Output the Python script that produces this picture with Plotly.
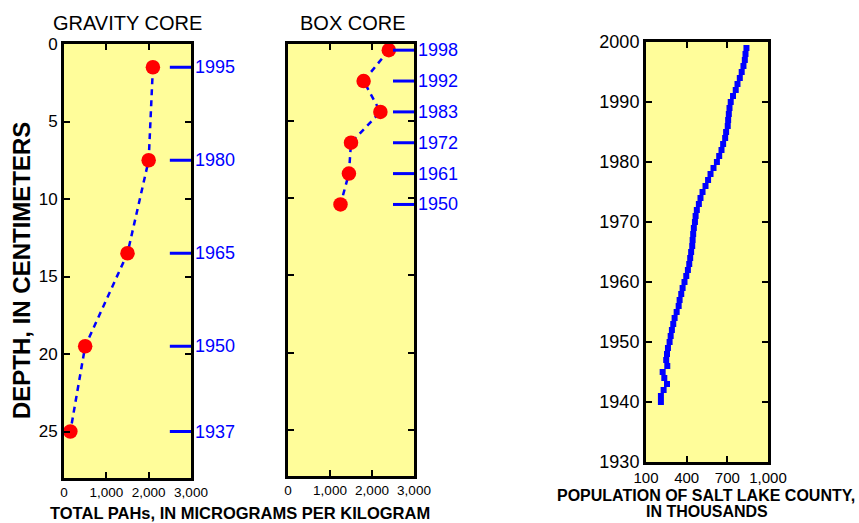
import plotly.graph_objects as go

# Gravity core: total PAHs (ug/kg) by depth (cm), with dated horizons
gravity_pah = [2100, 2000, 1500, 500, 150]
gravity_depth = [1.5, 7.5, 13.5, 19.5, 25]
gravity_years = ["1995", "1980", "1965", "1950", "1937"]

# Box core
box_pah = [2400, 1800, 2200, 1500, 1450, 1250]
box_depth = [0.4, 2.4, 4.4, 6.4, 8.4, 10.4]
box_years = ["1998", "1992", "1983", "1972", "1961", "1950"]

# Salt Lake County population, thousands
pop_years = [1940, 1941, 1942, 1943, 1944, 1945, 1946, 1947, 1948, 1949,
             1950, 1951, 1952, 1953, 1954, 1955, 1956, 1957, 1958, 1959,
             1960, 1961, 1962, 1963, 1964, 1965, 1966, 1967, 1968, 1969,
             1970, 1971, 1972, 1973, 1974, 1975, 1976, 1977, 1978, 1979,
             1980, 1981, 1982, 1983, 1984, 1985, 1986, 1987, 1988, 1989,
             1990, 1991, 1992, 1993, 1994, 1995, 1996, 1997, 1998, 1999]
pop_thousands = [210, 210, 230, 255, 235, 223, 257, 249, 255, 262,
                 274, 282, 291, 301, 311, 326, 341, 348, 360, 370,
                 384, 397, 409, 419, 426, 433, 441, 444, 448, 453,
                 461, 466, 475, 490, 502, 517, 539, 558, 576, 598,
                 623, 640, 657, 669, 684, 691, 703, 706, 711, 716,
                 725, 742, 762, 775, 792, 806, 819, 829, 834, 841]

pah_ticks = [0, 1000, 2000, 3000]
depth_ticks = [0, 5, 10, 15, 20, 25]
pop_ticks = [100, 400, 700, 1000]
year_ticks = [1930, 1940, 1950, 1960, 1970, 1980, 1990, 2000]

W, H = 859, 523
BG = "#fffd9a"
BLUE = "#0000ff"
RED = "#ff0000"
FONT = "Liberation Sans, Arial, sans-serif"


def px(x):
    return x / W


def py(y):
    return 1 - y / H


fig = go.Figure()

core_line = dict(color=BLUE, width=2.5, dash="6px,5px")
core_marker = dict(color=RED, size=14.5, line=dict(width=0))

fig.add_trace(go.Scatter(x=gravity_pah, y=gravity_depth, mode="lines+markers",
                         line=core_line, marker=core_marker,
                         xaxis="x", yaxis="y", showlegend=False))
fig.add_trace(go.Scatter(x=box_pah, y=box_depth, mode="lines+markers",
                         line=core_line, marker=core_marker,
                         xaxis="x2", yaxis="y2", showlegend=False))
fig.add_trace(go.Scatter(x=pop_thousands, y=pop_years, mode="markers",
                         marker=dict(color=BLUE, size=6, symbol="square",
                                     line=dict(width=0)),
                         xaxis="x3", yaxis="y3", showlegend=False))

frame = dict(showline=True, linewidth=3, linecolor="black", mirror="ticks",
             ticks="inside", ticklen=6, tickwidth=2, tickcolor="black",
             showgrid=False, zeroline=False, automargin=False)

fig.update_layout(
    width=W, height=H,
    margin=dict(l=0, r=0, t=0, b=0, pad=0, autoexpand=False),
    paper_bgcolor="white", plot_bgcolor=BG,
    font=dict(family=FONT, color="black"),
    xaxis=dict(domain=[px(64), px(191)], anchor="y", range=[0, 3000],
               tickvals=pah_ticks, tickformat=",",
               tickfont=dict(size=13.5), **frame),
    yaxis=dict(domain=[py(478), py(44)], anchor="x", range=[28, 0],
               tickvals=depth_ticks, tickfont=dict(size=17), **frame),
    xaxis2=dict(domain=[px(288), px(414)], anchor="y2", range=[0, 3000],
                tickvals=pah_ticks, tickformat=",",
                tickfont=dict(size=13.5), **frame),
    yaxis2=dict(domain=[py(476), py(44)], anchor="x2", range=[28, 0],
                tickvals=depth_ticks, showticklabels=False, **frame),
    xaxis3=dict(domain=[px(646), px(768)], anchor="y3", range=[100, 1000],
                tickvals=pop_ticks, tickformat=",",
                tickfont=dict(size=15), **frame),
    yaxis3=dict(domain=[py(462), py(42)], anchor="x3", range=[1930, 2000],
                tickvals=year_ticks, tickfont=dict(size=18), **frame),
)

# Dated horizons: short blue ticks at the right edge with year labels
for xa, ya, depths, years in (("x", "y", gravity_depth, gravity_years),
                              ("x2", "y2", box_depth, box_years)):
    for d, yr in zip(depths, years):
        fig.add_shape(type="line", xref=xa, yref=ya, x0=2500, x1=3000,
                      y0=d, y1=d, line=dict(color=BLUE, width=3))
        fig.add_annotation(xref=f"{xa} domain", yref=ya, x=1, y=d,
                           xanchor="left", yanchor="middle", xshift=2,
                           text=yr, showarrow=False,
                           font=dict(size=18, color=BLUE))


def label(x, y, text, size, angle=0):
    fig.add_annotation(xref="paper", yref="paper", x=px(x), y=py(y),
                       xanchor="center", yanchor="middle", text=text,
                       textangle=angle, showarrow=False,
                       font=dict(size=size, color="black"))


label(127, 23, "GRAVITY CORE", 20)
label(353, 23, "BOX CORE", 20)
label(21, 271, "<b>DEPTH, IN CENTIMETERS</b>", 24, angle=-90)
label(240, 513, "<b>TOTAL PAHs, IN MICROGRAMS PER KILOGRAM</b>", 16.5)
label(706, 495, "<b>POPULATION OF SALT LAKE COUNTY,</b>", 16)
label(707, 511, "<b>IN THOUSANDS</b>", 16)

fig.write_html("out.html")
